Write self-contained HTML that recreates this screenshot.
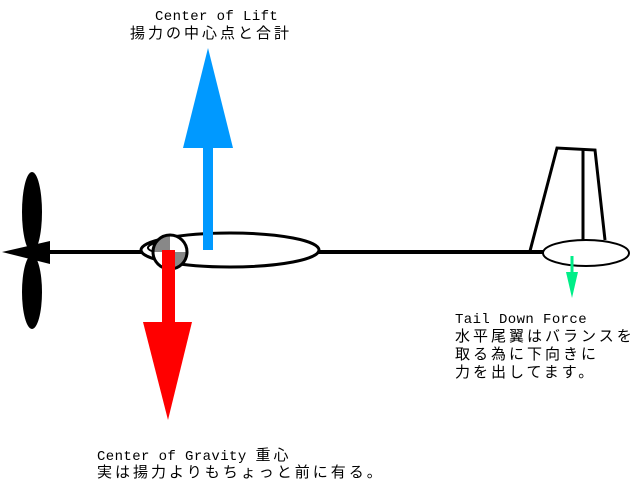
<!DOCTYPE html>
<html><head><meta charset="utf-8"><style>
html,body{margin:0;padding:0;background:#fff;}
svg{display:block}
text{font-family:"Liberation Mono","Noto Sans CJK JP",monospace;font-size:14px;fill:#000;letter-spacing:0.4px}
text.j{font-family:"Liberation Sans","Noto Sans CJK JP",sans-serif;font-size:15px;letter-spacing:3px}
</style></head><body>
<svg width="643" height="485" viewBox="0 0 643 485" xmlns="http://www.w3.org/2000/svg">
<line x1="40" y1="252" x2="545" y2="252" stroke="#000" stroke-width="4"/>
<polygon points="2,252 50,241 50,264" fill="#000"/>
<ellipse cx="32" cy="212" rx="10" ry="40" fill="#000"/>
<ellipse cx="32" cy="292" rx="10" ry="37" fill="#000"/>
<ellipse cx="230" cy="250" rx="89" ry="17" fill="#fff" stroke="#000" stroke-width="3"/>
<path d="M155,252 Q140,248 157,242" fill="none" stroke="#000" stroke-width="2"/>
<circle cx="170" cy="252" r="17" fill="#fff"/>
<path d="M170,252 L170,235 A17,17 0 0 0 153,252 Z" fill="#888"/>
<path d="M170,252 L187,252 A17,17 0 0 1 170,269 Z" fill="#888"/>
<circle cx="170" cy="252" r="17" fill="none" stroke="#000" stroke-width="3"/>
<rect x="203" y="146" width="10" height="104" fill="#0099ff"/>
<polygon points="208,48 183,148 233,148" fill="#0099ff"/>
<rect x="162" y="250" width="13" height="74" fill="#ff0000"/>
<polygon points="168,420 143,322 192,322" fill="#ff0000"/>
<polyline points="530,251 557,148 595,150 605,240" fill="none" stroke="#000" stroke-width="3"/>
<line x1="583" y1="150" x2="583" y2="243" stroke="#000" stroke-width="3"/>
<ellipse cx="586" cy="253" rx="43" ry="13" fill="#fff" stroke="#000" stroke-width="2"/>
<line x1="572" y1="256" x2="572" y2="275" stroke="#00ee88" stroke-width="3"/>
<polygon points="566,272 578,272 572,298" fill="#00ee88"/>
<text x="155" y="20">Center of Lift</text>
<text class="j" x="130" y="38">揚力の中心点と合計</text>
<text x="455" y="323">Tail Down Force</text>
<text class="j" x="455" y="341">水平尾翼はバランスを</text>
<text class="j" x="455" y="359">取る為に下向きに</text>
<text class="j" x="455" y="377">力を出してます。</text>
<text x="97" y="460">Center of Gravity <tspan style="font-family:'Noto Sans CJK JP',sans-serif;font-size:15px;letter-spacing:3px">重心</tspan></text>
<text class="j" x="97" y="477">実は揚力よりもちょっと前に有る。</text>
</svg>
</body></html>
